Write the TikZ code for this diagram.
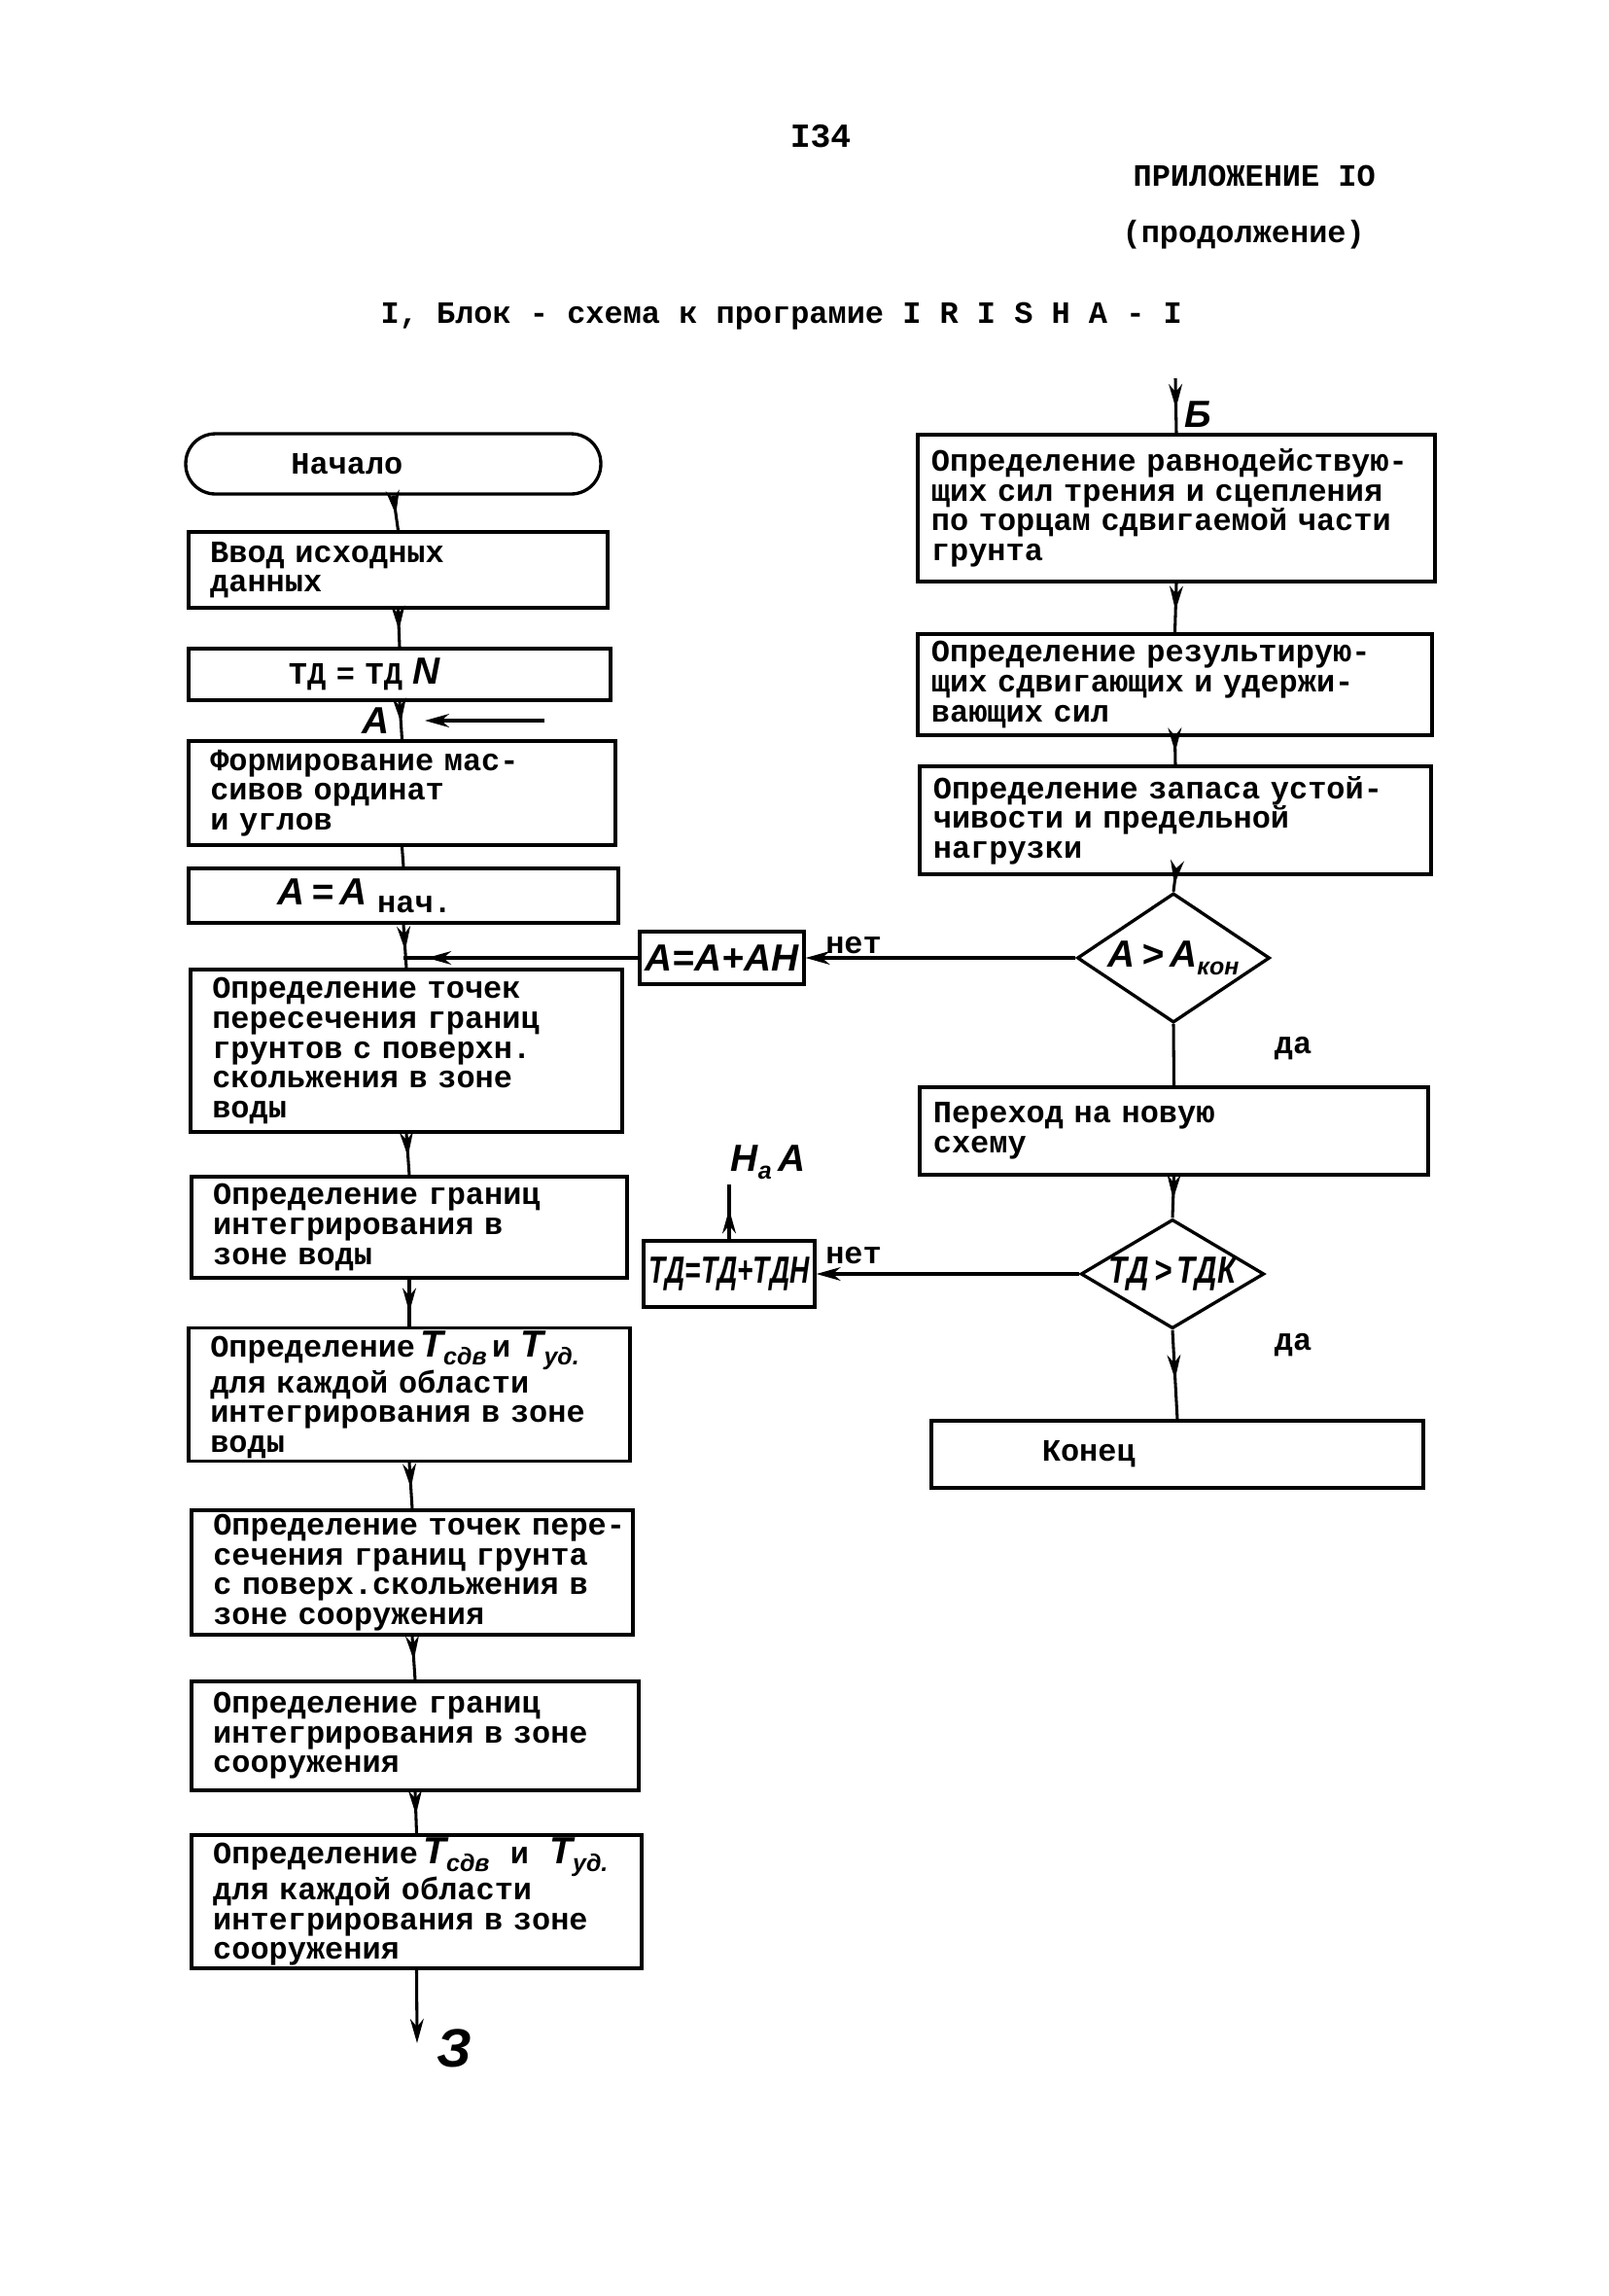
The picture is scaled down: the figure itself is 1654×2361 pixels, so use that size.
\documentclass[tikz,border=0pt]{standalone}
\usepackage{fontspec}
\usepackage{graphicx}
\setmainfont{Liberation Mono}
\newfontfamily\handfont{Liberation Sans}
\usetikzlibrary{shapes.geometric,arrows.meta,decorations.markings}

\newcommand{\tw}{\fontsize{11.5}{11}\selectfont\bfseries}
\newcommand{\hw}[2][1]{{\handfont\itshape\fontsize{14}{14}\selectfont\scalebox{#1}[1]{#2}}}
\newcommand{\lowsub}[1]{\raisebox{-3pt}{\fontsize{9}{9}\selectfont #1}}

\tikzset{
  box/.style={draw, line width=1.2pt, rectangle, inner xsep=8pt, inner ysep=1pt, align=left, font=\tw},
  rbox/.style={box, inner xsep=5pt},
  term/.style={box, rounded corners=11pt},
  cond/.style={draw, line width=1.2pt, diamond, inner sep=0pt, align=center, font=\tw},
  conn/.style={line width=1.1pt},
  flow/.style={conn, postaction={decorate}, decoration={markings, mark=at position #1 with {\arrow{Stealth[length=9pt,width=5pt]}}}},
  flow/.default=0.55,
  tip/.style={conn, -{Stealth[length=9pt,width=5pt]}},
  lbl/.style={inner sep=0.75pt, font=\tw}
}

\begin{document}
\begin{tikzpicture}[x=0.36pt,y=0.36pt,yscale=-1,xscale=1]
%page frame
\path [fill=white] (0,0) rectangle (1654,2361);

% Text Node
\node [lbl, font=\fontsize{12.5}{12.5}\selectfont\bfseries] (page) at (844,140) {I34};
% Text Node
\node [lbl, anchor=west] (app) at (1163,181) {ПРИЛОЖЕНИЕ IO};
% Text Node
\node [lbl, anchor=west] (cont) at (1152,241) {(продолжение)};
% Text Node
\node [lbl, anchor=west] (title) at (389,325) {I, Блок - схема к програмие I R I S H A - I};

%Shape: Terminal
\node [term, text width=137.7pt, minimum height=22.3pt] (start) at (404.5,477) {\hspace*{31pt}Начало};
%Shape: Rectangle
\node [box, text width=139.2pt, minimum height=28.1pt] (inp) at (409.5,586) {Ввод исходных\\данных};
%Shape: Rectangle
\node [box, text width=140.2pt, minimum height=19.1pt] (tdn) at (411,693.5) {\hspace*{29pt}ТД = ТД \hw{N}};
%Shape: Rectangle
\node [box, text width=142pt, minimum height=38.5pt] (form) at (413.5,815.5) {Формирование мас-\\сивов ординат\\и углов};
%Shape: Rectangle
\node [box, text width=143.1pt, minimum height=20.2pt] (anach) at (415,921) {\hspace*{25pt}\hw{A\,=\,A}\ \raisebox{-3pt}{нач.}};
%Shape: Rectangle
\node [box, text width=143.8pt, minimum height=60.1pt] (cross1) at (418,1080.5) {Определение точек\\пересечения границ\\грунтов с поверхн.\\скольжения в зоне\\воды};
%Shape: Rectangle
\node [box, text width=145.3pt, minimum height=37.4pt] (bnd1) at (421,1262) {Определение границ\\интегрирования в\\зоне воды};
%Shape: Rectangle
\node [box, text width=147.4pt, minimum height=49pt] (tau1) at (421,1434) {Определение\,\hw{T\lowsub{сдв}}\,и \hw{T\lowsub{уд.}}\\[-1pt]для каждой области\\интегрирования в зоне\\воды};
%Shape: Rectangle
\node [box, text width=147.4pt, minimum height=46.1pt] (cross2) at (424,1617) {\mbox{Определение точек пере-}\\сечения границ грунта\\с поверх.скольжения в\\зоне сооружения};
%Shape: Rectangle
\node [box, text width=149.6pt, minimum height=40.3pt] (bnd2) at (427,1785) {Определение границ\\интегрирования в зоне\\сооружения};
%Shape: Rectangle
\node [box, text width=150.7pt, minimum height=48.6pt] (tau2) at (428.5,1955.5) {Определение\,\hw{T\lowsub{сдв}}\ \ и\ \ \hw{T\lowsub{уд.}}\\[-1pt]для каждой области\\интегрирования в зоне\\сооружения};

%Shape: Rectangle
\node [rbox, text width=181.5pt, minimum height=54.4pt] (res) at (1210,522.5) {Определение равнодействую-\\щих сил трения и сцепления\\по торцам сдвигаемой части\\грунта};
%Shape: Rectangle
\node [rbox, text width=180.4pt, minimum height=37.4pt] (net) at (1208.5,704) {Определение результирую-\\щих сдвигающих и удержи-\\вающих сил};
%Shape: Rectangle
\node [rbox, text width=179.4pt, minimum height=40pt] (safe) at (1209,843.5) {Определение запаса устой-\\чивости и предельной\\нагрузки};
%Shape: Diamond
\node [cond, minimum width=71.3pt, minimum height=47.9pt, shape aspect=1.49] (chkA) at (1207,985) {\hw{A\,>\,A\lowsub{кон}}};
%Shape: Rectangle
\node [rbox, text width=178.3pt, minimum height=32.4pt] (next) at (1207.5,1163) {Переход на новую\\схему};
%Shape: Diamond
\node [cond, minimum width=65.9pt, minimum height=39.2pt, shape aspect=1.68] (chkT) at (1206,1310) {\hw[0.8]{ТД\,>\,ТДК}};
%Shape: Rectangle
\node [rbox, text width=172.2pt, minimum height=24.8pt] (stop) at (1211,1495.5) {\hspace*{36pt}Конец};

%Shape: Rectangle
\node [box, inner xsep=2pt, minimum width=60.8pt, minimum height=19.4pt] (stepA) at (742.5,985) {\hw{A=A+AH}};
%Shape: Rectangle
\node [box, inner xsep=2pt, minimum width=60.1pt, minimum height=24.5pt] (stepT) at (750,1310) {\hw[0.72]{ТД=ТД+ТДН}};

% free ends
\coordinate (Bin) at (1209,389);
\coordinate (Zout) at (429,2101);
\coordinate (Ain) at (560,741);
\coordinate (Aend) at (437,741);
\coordinate (toA) at (750,1218);
\coordinate (jA) at (anach.south |- stepA.west);

%Straight Lines
\draw [flow] (start.south) -- (inp.north);
\draw [flow] (inp.south) -- (tdn.north);
\draw [flow] (tdn.south) -- (form.north);
\draw [conn] (form.south) -- (anach.north);
\draw [flow=0.6] (anach.south) -- (cross1.north);
\draw [flow] (cross1.south) -- (bnd1.north);
\draw [flow=0.7] (bnd1.south) -- (tau1.north);
\draw [flow] (tau1.south) -- (cross2.north);
\draw [flow] (cross2.south) -- (bnd2.north);
\draw [flow] (bnd2.south) -- (tau2.north);
\draw [tip] (tau2.south) -- (Zout);
\draw [tip] (Ain) -- (Aend);
\draw [flow=0.9] (stepA.west) -- (jA);

%Straight Lines
\draw [flow] (Bin) -- (res.north);
\draw [flow] (res.south) -- (net.north);
\draw [flow] (net.south) -- (safe.north);
\draw [flow] (safe.south) -- (chkA.north);
\draw [conn] (chkA.south) -- (next.north);
\draw [flow] (next.south) -- (chkT.north);
\draw [flow] (chkT.south) -- (stop.north);
\draw [tip] (chkA.west) -- (chkA.west -| stepA.east);
\draw [tip] (chkT.west) -- (chkT.west -| stepT.east);
\draw [flow] (stepT.north) -- (toA);

% Text Node
\node [lbl] (lblA) at (387,741) {\hw{A}};
% Text Node
\node [lbl] (lblB) at (1232,426) {\hw{Б}};
% Text Node
\node [lbl] (lblZ) at (467,2106) {\hw{\fontsize{20}{20}\selectfont З}};
% Text Node
\node [lbl] (lblToA) at (790,1195) {\hw{Н\lowsub{а}\,A}};
% Text Node
\node [lbl] (no1) at (878,972) {нет};
% Text Node
\node [lbl] (yes1) at (1330,1078) {да};
% Text Node
\node [lbl] (no2) at (878,1291) {нет};
% Text Node
\node [lbl] (yes2) at (1330,1383) {да};

\end{tikzpicture}
\end{document}
